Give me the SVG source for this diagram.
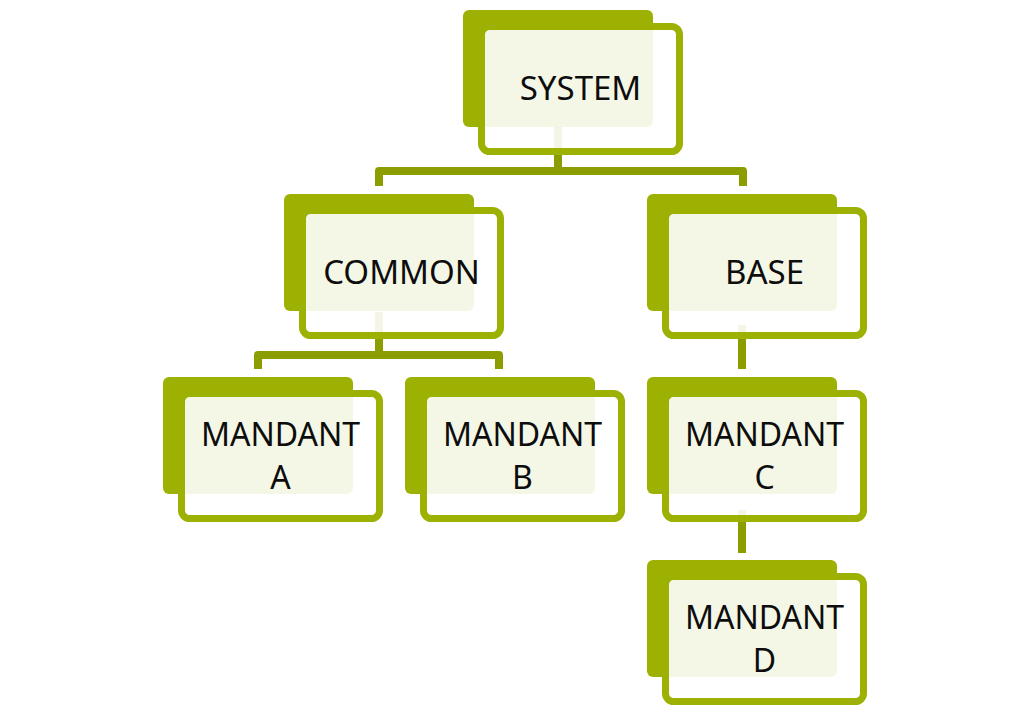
<svg xmlns="http://www.w3.org/2000/svg" width="1024" height="711" viewBox="0 0 1024 711">
<style>
.back{fill:#9db103}
.front{fill:#ffffff;fill-opacity:0.9;stroke:#9db103;stroke-width:7}
.lbl{font-family:"Noto Sans","Open Sans",sans-serif;font-size:33px;fill:#0d0d0d;text-anchor:middle}
.lbl2{font-size:32px}
.conn{fill:none;stroke:#8c9d00;stroke-width:8;stroke-linejoin:round}
</style>
<rect width="1024" height="711" fill="#ffffff"/>
<g id="connectors">
<path class="conn" d="M558,125 V171"/>
<path class="conn" d="M379,186 V171 H743 V186"/>
<path class="conn" d="M379,312 V355"/>
<path class="conn" d="M258,369 V355 H499 V369"/>
<path class="conn" d="M742,325 V369"/>
<path class="conn" d="M742,510 V553"/>
</g>
<g id="system">
<rect class="back" x="463" y="10" width="190" height="117" rx="6"/>
<rect class="front" x="481.5" y="26.5" width="198" height="125" rx="8"/>
<text class="lbl" x="580.5" y="100">SYSTEM</text>
</g>
<g id="common">
<rect class="back" x="284" y="194" width="190" height="117" rx="6"/>
<rect class="front" x="302.5" y="210.5" width="198" height="125" rx="8"/>
<text class="lbl" x="401.5" y="284">COMMON</text>
</g>
<g id="base">
<rect class="back" x="647" y="194" width="190" height="117" rx="6"/>
<rect class="front" x="665.5" y="210.5" width="198" height="125" rx="8"/>
<text class="lbl" x="764.5" y="284">BASE</text>
</g>
<g id="mandant-a">
<rect class="back" x="163" y="377" width="190" height="117" rx="6"/>
<rect class="front" x="181.5" y="393.5" width="198" height="125" rx="8"/>
<text class="lbl lbl2" x="280.5" y="446">MANDANT</text>
<text class="lbl lbl2" x="280.5" y="489">A</text>
</g>
<g id="mandant-b">
<rect class="back" x="405" y="377" width="190" height="117" rx="6"/>
<rect class="front" x="423.5" y="393.5" width="198" height="125" rx="8"/>
<text class="lbl lbl2" x="522.5" y="446">MANDANT</text>
<text class="lbl lbl2" x="522.5" y="489">B</text>
</g>
<g id="mandant-c">
<rect class="back" x="647" y="377" width="190" height="117" rx="6"/>
<rect class="front" x="665.5" y="393.5" width="198" height="125" rx="8"/>
<text class="lbl lbl2" x="764.5" y="446">MANDANT</text>
<text class="lbl lbl2" x="764.5" y="489">C</text>
</g>
<g id="mandant-d">
<rect class="back" x="647" y="560" width="190" height="117" rx="6"/>
<rect class="front" x="665.5" y="576.5" width="198" height="125" rx="8"/>
<text class="lbl lbl2" x="764.5" y="629">MANDANT</text>
<text class="lbl lbl2" x="764.5" y="672">D</text>
</g>
</svg>
